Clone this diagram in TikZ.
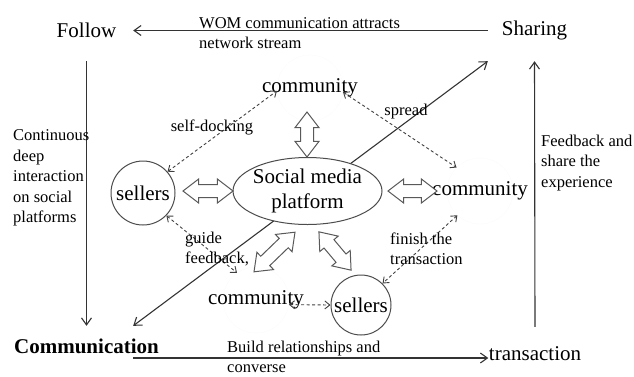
\documentclass[tikz,border=0pt]{standalone}
\usepackage{fontspec}
\setmainfont{Liberation Serif}
\usetikzlibrary{shapes,arrows.meta}
\usetikzlibrary{positioning}

\begin{document}
\begin{tikzpicture}[x=1pt, y=-1pt,
  big/.style={font=\fontsize{21}{25}\selectfont},
  note/.style={font=\fontsize{16.5}{20.5}\selectfont, align=left, inner sep=0pt},
  stagebox/.style={big, rectangle, minimum width=93pt, inner sep=0pt},
  ring/.style={big, circle, draw=black!70, line width=1pt, inner sep=0pt, minimum size=64pt},
  faintring/.style={big, circle, draw=black!2, inner sep=0pt, minimum size=66pt},
  flow/.style={draw=black!80, line width=1.1pt, -{Straight Barb[length=7pt,width=10pt]}},
  link/.style={draw=black!75, line width=0.9pt, dash pattern=on 3pt off 2.5pt,
    {Straight Barb[length=5pt,width=8pt]}-{Straight Barb[length=5pt,width=8pt]}},
  bigarrow/.style={double arrow, draw=black!65, fill=white, line width=1pt,
    inner xsep=0pt, inner ysep=6pt, double arrow head extend=5.5pt, double arrow tip angle=75}]
  \useasboundingbox (0,0) rectangle (634,376);
  % four stages at the corners
  \node[stagebox, minimum height=61pt] (follow) at (86.5,30.5) {Follow};
  \node[stagebox, minimum height=61pt] (share) at (534.5,30.5) {Sharing};
  \node[stagebox, minimum height=40pt, font=\fontsize{21}{25}\selectfont\bfseries] (comm) at (86.5,346) {\makebox[0pt]{Communication}};
  \node[stagebox, minimum height=54pt] (trans) at (535,354) {transaction};
  % outer cycle
  \draw[flow] (share.west) -- (follow.east);
  \draw[flow] (follow.south) -- (comm.north);
  \draw[flow] (trans.north) -- (share.south);
  \coordinate (build) at ([yshift=-12pt]comm.east);
  \draw[flow] (build) -- (build -| trans.west);
  \draw[flow, {Straight Barb[length=7pt,width=10pt]}-{Straight Barb[length=7pt,width=10pt]}] (comm.north east) -- (share.south west);
  % labels of the outer cycle
  \node[note, anchor=west] (womlbl) at (199,33) {WOM communication attracts\\network stream};
  \node[note, anchor=west] (deeplbl) at (13,178) {Continuous\\deep\\interaction\\on social\\platforms};
  \node[note, anchor=west] (feedlbl) at (541,163) {Feedback and\\share the\\experience};
  \node[note, anchor=west] (buildlbl) at (227,357) {Build relationships and\\converse};
  % platform in the middle
  \node[big, ellipse, draw=black!70, fill=white, line width=1pt, align=center, inner sep=0pt, inner xsep=-3pt,
    minimum width=149pt, minimum height=67pt] (smp) at (307.5,191) {Social media\\platform};
  % sellers and communities
  \node[ring] (sellL) at (143,193) {sellers};
  \node[ring, minimum size=60pt] (sellB) at (361,305) {sellers};
  \node[faintring] (comT) at (310,88) {\makebox[0pt]{community}};
  \node[faintring] (comR) at (480,191) {\makebox[0pt]{community}};
  \node[faintring] (comB) at (256,300) {\makebox[0pt]{community}};
  % hollow arrows round the platform
  \node[bigarrow, minimum height=45pt, rotate=90] (arrT) at (307,134.5) {};
  \node[bigarrow, minimum height=50pt] (arrL) at (208,191) {};
  \node[bigarrow, minimum height=49pt] (arrR) at (412.5,191) {};
  \node[bigarrow, minimum height=57pt, rotate=44] (arrBL) at (274.5,252) {};
  \node[bigarrow, minimum height=50pt, rotate=-50] (arrBR) at (335,251) {};
  % dashed links
  \draw[link] (sellL.41) -- (comT.185);
  \draw[link] (comT.-7) -- (comR.135);
  \draw[link] (sellL.-44) -- (comB.125);
  \draw[link] (comR.-133) -- (sellB.45);
  \draw[link] (comB.-8) -- (sellB.180);
  \node[note] (docklbl) at (212,127) {self-docking};
  \node[note] (spreadlbl) at (406,112) {spread};
  \node[note, anchor=west] (guidelbl) at (185,249) {guide\\feedback,};
  \node[note, anchor=west] (finishlbl) at (390,249) {finish the\\transaction};
\end{tikzpicture}
\end{document}
